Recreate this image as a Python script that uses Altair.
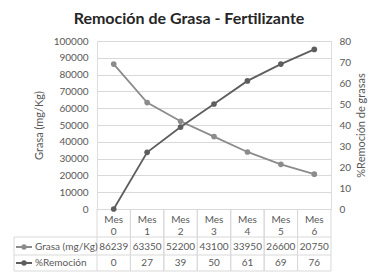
import altair as alt
import pandas as pd

# Monthly samples
meses = ["Mes 0", "Mes 1", "Mes 2", "Mes 3", "Mes 4", "Mes 5", "Mes 6"]
grasa = [86239, 63350, 52200, 43100, 33950, 26600, 20750]
remocion = [0, 27, 39, 50, 61, 69, 76]

serie_grasa = "Grasa (mg/Kg)"
serie_rem = "%Remoción"

FONT = "Lato"
FS = 10
C_GRASA = "#8c8c8c"
C_REM = "#5e5e5e"
C_TEXT = "#595959"
C_GRID = "#d9d9d9"

W, H = 234, 168

df = pd.DataFrame({"mes": meses, "grasa": grasa, "rem": remocion})

band = alt.Scale(type="band", paddingInner=0, paddingOuter=0)
x_enc = alt.X("mes:N", sort=meses, scale=band, axis=None)

base = alt.Chart(df)

line_grasa = base.mark_line(color=C_GRASA, strokeWidth=1.8, point=alt.OverlayMarkDef(color=C_GRASA, size=32, filled=True, opacity=1)).encode(
    x=x_enc,
    y=alt.Y("grasa:Q", scale=alt.Scale(domain=[0, 100000], nice=False),
            axis=alt.Axis(title="Grasa (mg/Kg)", values=list(range(0, 100001, 10000)),
                          format="d",
                          grid=True, gridColor=C_GRID, domain=False, ticks=False,
                          labelPadding=9, labelFontSize=FS, labelColor=C_TEXT, labelFont=FONT,
                          titleFont=FONT, titleFontSize=11, titleFontWeight="normal",
                          titleColor=C_TEXT, titlePadding=9)),
)

line_rem = base.mark_line(color=C_REM, strokeWidth=1.8, point=alt.OverlayMarkDef(color=C_REM, size=32, filled=True, opacity=1)).encode(
    x=x_enc,
    y=alt.Y("rem:Q", scale=alt.Scale(domain=[0, 80], nice=False),
            axis=alt.Axis(title="%Remoción de grasas", orient="right",
                          values=list(range(0, 81, 10)),
                          grid=False, domain=False, ticks=False,
                          labelPadding=8, labelFontSize=FS, labelColor=C_TEXT, labelFont=FONT,
                          titleFont=FONT, titleFontSize=11, titleFontWeight="normal",
                          titleColor=C_TEXT, titleAngle=270, titleBaseline="bottom",
                          titlePadding=16)),
)

# Data table under the plot
Y_MES, Y_NUM, Y_R1, Y_R2 = 178.5, 190.5, 206, 222
Y_TOP, Y_L1, Y_L2, Y_BOT = H, 196, 214, 230
X_LEFT = -83

header = base.transform_calculate(
    l1="split(datum.mes, ' ')[0]", l2="split(datum.mes, ' ')[1]")

head1 = header.mark_text(font=FONT, fontSize=FS, color=C_TEXT, baseline="middle").encode(
    x=x_enc, y=alt.value(Y_MES), text="l1:N")
head2 = header.mark_text(font=FONT, fontSize=FS, color=C_TEXT, baseline="middle").encode(
    x=x_enc, y=alt.value(Y_NUM), text="l2:N")

row1 = base.mark_text(font=FONT, fontSize=FS, color=C_TEXT, baseline="middle").encode(
    x=x_enc, y=alt.value(Y_R1), text=alt.Text("grasa:Q", format="d"))

row2 = base.mark_text(font=FONT, fontSize=FS, color=C_TEXT, baseline="middle").encode(
    x=x_enc, y=alt.value(Y_R2), text=alt.Text("rem:Q", format="d"))

vlines_start = base.mark_rule(color=C_GRID, strokeWidth=1).encode(
    x=alt.X("mes:N", sort=meses, bandPosition=0, scale=band, axis=None),
    y=alt.value(Y_TOP), y2=alt.value(Y_BOT))

vlines_end = base.mark_rule(color=C_GRID, strokeWidth=1).encode(
    x=alt.X("mes:N", sort=meses, bandPosition=1, scale=band, axis=None),
    y=alt.value(Y_TOP), y2=alt.value(Y_BOT))

hlines = alt.Chart(pd.DataFrame({"yy": [Y_L1, Y_L2, Y_BOT]})).mark_rule(
    color=C_GRID, strokeWidth=1).encode(
    x=alt.value(X_LEFT), x2=alt.value(W), y=alt.Y("yy:Q", scale=None))

box_left = alt.Chart(pd.DataFrame({"a": [0]})).mark_rule(color=C_GRID, strokeWidth=1).encode(
    x=alt.value(X_LEFT), y=alt.value(Y_L1), y2=alt.value(Y_BOT))

# Row labels with legend keys
leyenda = pd.DataFrame({
    "serie": [serie_grasa, serie_rem],
    "yy": [Y_R1, Y_R2],
})
key_color = alt.Color("serie:N", scale=alt.Scale(domain=[serie_grasa, serie_rem],
                                                 range=[C_GRASA, C_REM]), legend=None)
key_line = alt.Chart(leyenda).mark_rule(strokeWidth=2).encode(
    x=alt.value(-81), x2=alt.value(-65), y=alt.Y("yy:Q", scale=None), color=key_color)
key_dot = alt.Chart(leyenda).mark_point(filled=True, size=28, opacity=1).encode(
    x=alt.value(-73), y=alt.Y("yy:Q", scale=None), color=key_color)
key_text = alt.Chart(leyenda).mark_text(font=FONT, fontSize=FS, color=C_TEXT,
                                         align="left", baseline="middle").encode(
    x=alt.value(-62), y=alt.Y("yy:Q", scale=None), text="serie:N")

chart = alt.layer(
    line_grasa, line_rem,
    head1, head2, row1, row2, vlines_start, vlines_end, hlines, box_left,
    key_line, key_dot, key_text,
).resolve_scale(y="independent").properties(
    width=W, height=H,
    autosize=alt.AutoSizeParams(type="none"),
    padding={"left": 97, "top": 41, "right": 47, "bottom": 67},
    title=alt.TitleParams("Remoción de Grasa - Fertilizante", font=FONT, fontSize=16,
                          fontWeight="bold", color="#262626", anchor="middle", dx=-25, offset=9),
).configure_view(stroke=None).configure(background="white")

chart.save("out.html", embed_options={"renderer": "svg", "actions": False})
